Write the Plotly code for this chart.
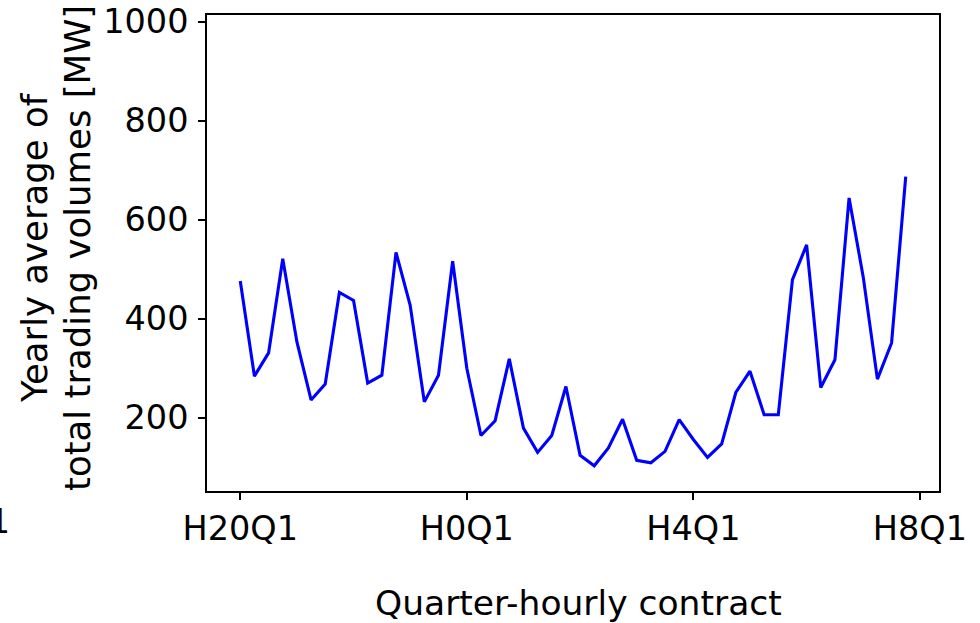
import plotly.graph_objects as go

# Quarter-hourly contracts from H20Q1 through H7Q4
hours = list(range(20, 24)) + list(range(0, 8))
contracts = [f"H{h}Q{q}" for h in hours for q in range(1, 5)]

# Yearly average of total trading volumes [MW]
volumes = [
    476, 284, 331, 521, 353, 236, 268, 453,
    437, 270, 286, 534, 427, 232, 286, 516,
    300, 164, 194, 319, 179, 130, 164, 263,
    124, 103, 139, 197, 114, 109, 132, 196,
    156, 120, 147, 251, 294, 206, 206, 479,
    549, 261, 317, 644, 484, 278, 351, 687,
]

tick_positions = [0, 16, 32, 48]
tick_labels = ["H20Q1", "H0Q1", "H4Q1", "H8Q1"]

FONT = "DejaVu Sans"
W, H = 980, 623
L, R, T, B = 207, 41, 15, 132

fig = go.Figure(
    go.Scatter(
        x=contracts,
        y=volumes,
        mode="lines",
        line=dict(color="#0000ff", width=3.1),
        showlegend=False,
    )
)

axis_common = dict(
    automargin=False,
    showline=True,
    linecolor="black",
    linewidth=1.6,
    mirror=True,
    ticks="outside",
    ticklen=7,
    tickwidth=1.6,
    tickcolor="black",
    showgrid=False,
    zeroline=False,
    tickfont=dict(family=FONT, size=33.5, color="black"),
)

fig.update_xaxes(
    type="category",
    categoryorder="array",
    categoryarray=contracts,
    range=[-2.35, 49.35],
    tickmode="array",
    tickvals=tick_positions,
    ticktext=tick_labels,
    **axis_common,
)
fig.update_yaxes(
    range=[52, 1013.5],
    tickmode="array",
    tickvals=[200, 400, 600, 800, 1000],
    ticklabelstandoff=3,
    **axis_common,
)

plot_w = W - L - R
plot_h = H - T - B


def px_x(px):
    return (px - L) / plot_w


def px_y(py):
    return (T + plot_h - py) / plot_h


title_font = dict(family=FONT, size=35.5, color="black")

annotations = [
    # y-axis title, two lines
    dict(
        text="Yearly average of",
        xref="paper", yref="paper",
        x=px_x(34), y=px_y(248),
        xanchor="center", yanchor="middle",
        textangle=-90, showarrow=False, font=title_font,
    ),
    dict(
        text="total trading volumes [MW]",
        xref="paper", yref="paper",
        x=px_x(77), y=px_y(248),
        xanchor="center", yanchor="middle",
        textangle=-90, showarrow=False, font=title_font,
    ),
    # x-axis title
    dict(
        text="Quarter-hourly contract",
        xref="paper", yref="paper",
        x=px_x(578), y=px_y(603),
        xanchor="center", yanchor="middle",
        showarrow=False,
        font=dict(family=FONT, size=34.5, color="black"),
    ),
    # last tick label of the neighbouring panel on the left
    dict(
        text="H8Q1",
        xref="paper", yref="paper",
        x=px_x(12), y=px_y(521),
        xanchor="right", yanchor="middle",
        showarrow=False,
        font=dict(family=FONT, size=33.5, color="black"),
    ),
]

fig.update_layout(
    width=W,
    height=H,
    margin=dict(l=L, r=R, t=T, b=B, pad=0),
    paper_bgcolor="white",
    plot_bgcolor="white",
    annotations=annotations,
)

fig.write_html("out.html")
